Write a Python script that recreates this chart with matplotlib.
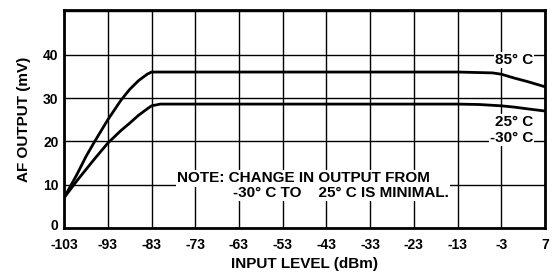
import matplotlib.pyplot as plt
import matplotlib.transforms as mtransforms
import numpy as np

# curve data
x_hot = [-103, -100, -98, -96, -93, -90, -88, -86, -84, -83, -73, -53, -33, -13, -5, -3, 0, 3, 7]
y_hot = [7, 12.5, 16.5, 20, 25, 29.5, 32, 34, 35.5, 36, 36, 36, 36, 36, 35.8, 35.5, 34.6, 33.8, 32.6]
x_cold = [-103, -100, -98, -96, -93, -90, -88, -86, -84, -83, -81, -73, -53, -33, -13, -8, -3, 0, 3, 7]
y_cold = [7, 11, 13.5, 16, 19.6, 22.5, 24.2, 26, 27.5, 28.2, 28.6, 28.6, 28.6, 28.6, 28.6, 28.5, 28.2, 27.9, 27.5, 27.0]
xticks = [-103, -93, -83, -73, -63, -53, -43, -33, -23, -13, -3, 7]
yticks = [0, 10, 20, 30, 40]
labels = ["85\u00b0 C", "25\u00b0 C", "-30\u00b0 C"]
label_y = [38.8, 24.5, 20.8]

plt.rcParams['font.family'] = ['Liberation Sans', 'DejaVu Sans']
plt.rcParams['axes.unicode_minus'] = False

fig = plt.figure(figsize=(5.53, 2.73), dpi=100)
ax = fig.add_axes([0.116, 0.165, 0.8695, 0.798])

ax.set_xlim(-103, 7)
ax.set_ylim(0, 50.3)
ax.set_xticks(xticks)
ax.set_yticks(yticks)
ax.grid(True, color='black', linewidth=1.0)
ax.axhline(50, color='black', linewidth=1.0)
ax.tick_params(axis='x', length=0, labelsize=10, pad=7)
ax.tick_params(axis='y', length=0, labelsize=10, pad=4)
for t in ax.get_xticklabels() + ax.get_yticklabels():
    t.set_fontweight('bold')
# nudge the "0" label up a bit like in the original
zero = ax.get_yticklabels()[0]
zero.set_transform(zero.get_transform() + mtransforms.ScaledTranslation(0, 3 / 100, fig.dpi_scale_trans))
for s in ax.spines.values():
    s.set_linewidth(2)

ax.plot(x_hot, y_hot, color='black', linewidth=2)
ax.plot(x_cold, y_cold, color='black', linewidth=2)

for lab, ly in zip(labels, label_y):
    ax.text(4.3, ly, lab, ha='right', va='center', fontsize=11, fontweight='bold',
            bbox=dict(facecolor='white', edgecolor='none', pad=0.5))

ax.text(-77.2, 11.5, "NOTE: CHANGE IN OUTPUT FROM", ha='left', va='center',
        fontsize=11, fontweight='bold',
        bbox=dict(facecolor='white', edgecolor='none', pad=1))
ax.text(-64.4, 8.1, "-30\u00b0 C TO    25\u00b0 C IS MINIMAL.", ha='left', va='center',
        fontsize=11, fontweight='bold',
        bbox=dict(facecolor='white', edgecolor='none', pad=1))

ax.set_xlabel("INPUT LEVEL (dBm)", fontsize=11, fontweight='bold', labelpad=4)
ax.set_ylabel("AF OUTPUT (mV)", fontsize=11, fontweight='bold', labelpad=9)

fig.savefig("out.png", dpi=100)
